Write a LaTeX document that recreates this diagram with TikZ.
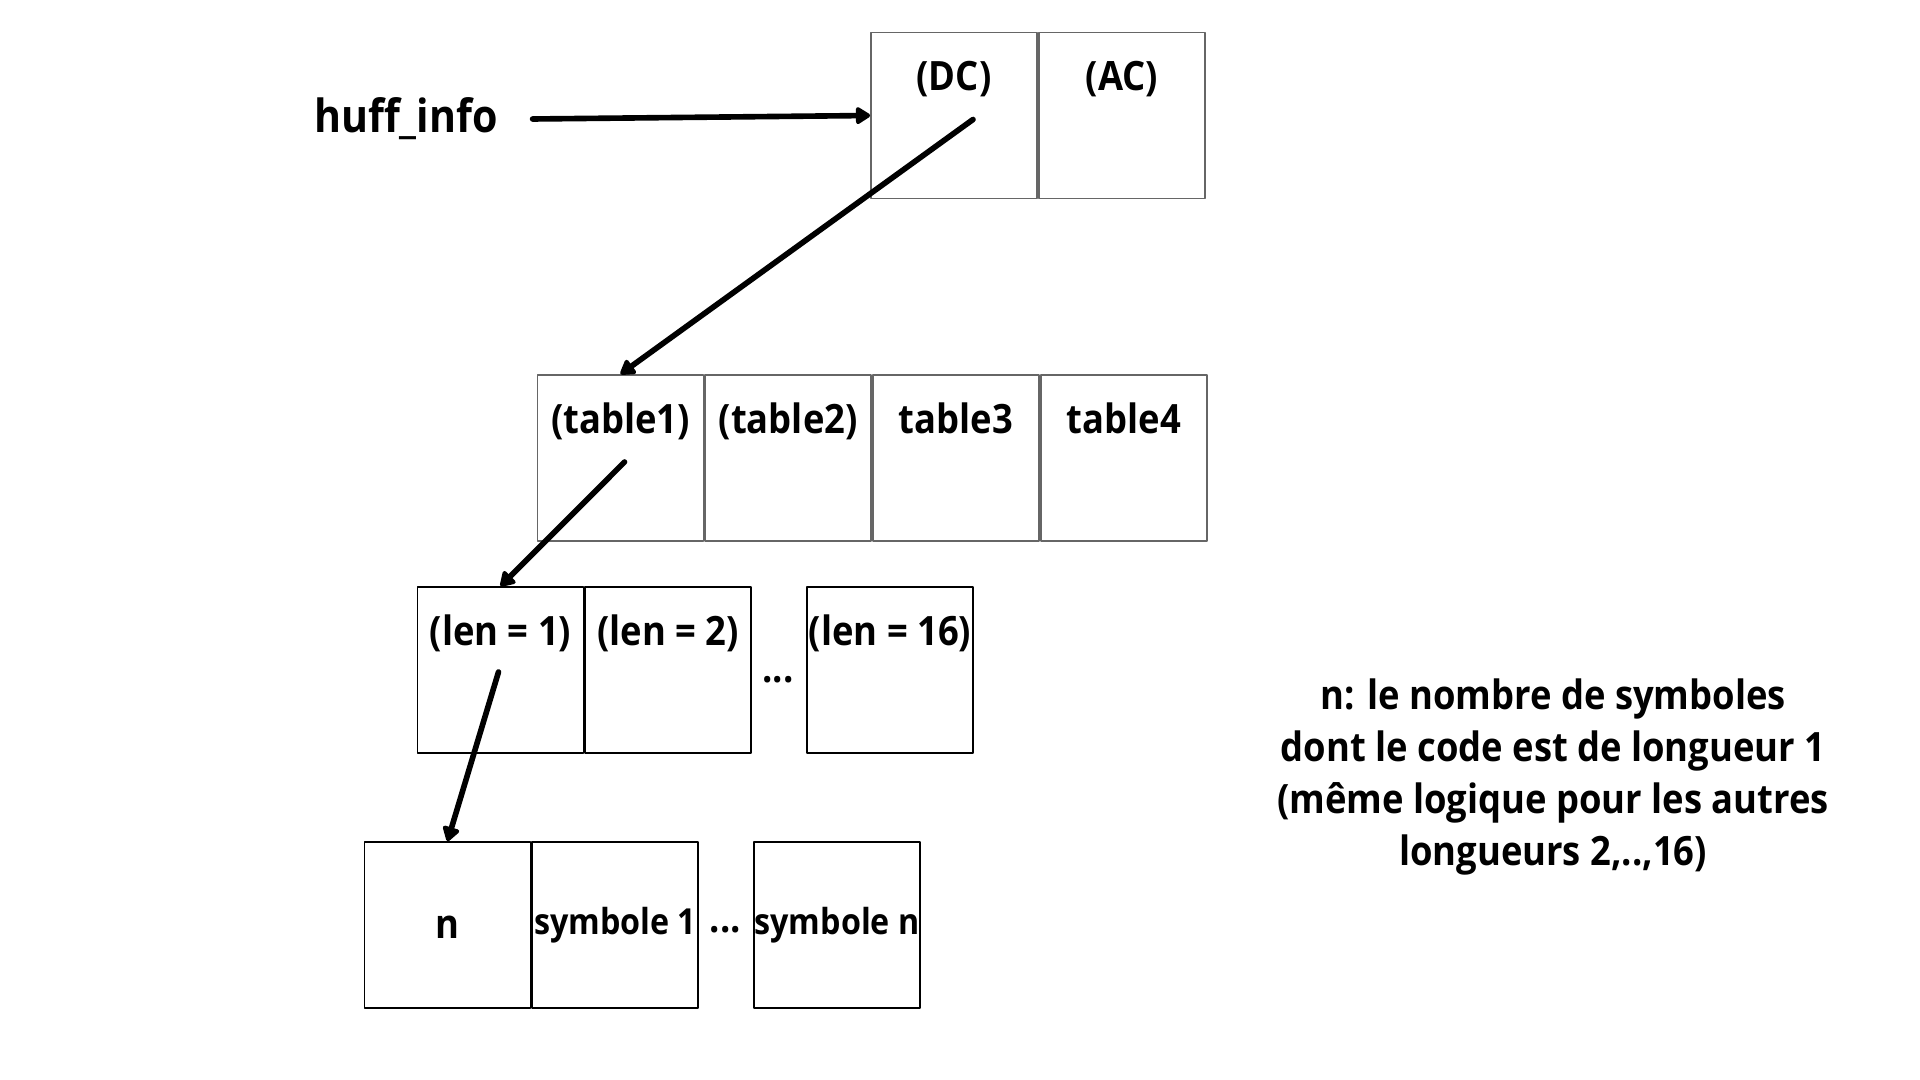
\documentclass[tikz,border=0pt]{standalone}
\usepackage{fontspec}
\setmainfont{Open Sans}[FakeStretch=0.9]
\usetikzlibrary{positioning,arrows.meta}
\tikzset{
	cell/.style={draw=gray!80!black, line width=0.5pt, minimum width=1.66cm, minimum height=1.66cm, inner sep=0pt},
	cellb/.style={cell, draw=black},
	lbl/.style={font=\fontsize{11.5}{13.5}\selectfont\bfseries, inner sep=0pt},
	toplbl/.style={lbl, text height=8.6pt, text depth=2.9pt},
	ptr/.style={->, line width=1.6pt}
}
\begin{document}
\begin{tikzpicture}[>={Triangle[round, length=4.6pt, width=5.4pt]}, line join=round, line cap=round]
	\useasboundingbox (0,0) rectangle (19.2,-10.8);
	% Niveau 1 : huff_info -> (DC) (AC)
	\node[font=\fontsize{13}{15}\selectfont\bfseries, inner sep=0pt] (huff) at (4.06,-1.19) {huff\_info};
	\node[cell] (dc) at (9.54,-1.155) {};
	\node[cell, right=0pt of dc] (ac) {};
	\node[toplbl] (dctxt) at ([yshift=-0.49cm]dc.north) {(DC)};
	\node[toplbl] (actxt) at ([yshift=-0.49cm]ac.north) {(AC)};
	
	% Niveau 2 : les 4 tables
	\node[cell] (t1) at (6.205,-4.58) {};
	\node[cell, right=0pt of t1] (t2) {};
	\node[cell, right=0pt of t2] (t3) {};
	\node[cell, right=0pt of t3] (t4) {};
	\node[toplbl] (t1txt) at ([yshift=-0.49cm]t1.north) {(table1)};
	\node[toplbl] (t2txt) at ([yshift=-0.49cm]t2.north) {(table2)};
	\node[toplbl] (t3txt) at ([yshift=-0.49cm]t3.north) {table3};
	\node[toplbl] (t4txt) at ([yshift=-0.49cm]t4.north) {table4};
	
	% Niveau 3 : longueurs 1..16
	\node[cellb] (l1) at (5.005,-6.70) {};
	\node[cellb, right=0pt of l1] (l2) {};
	\node[cellb] (l16) at (8.90,-6.70) {};
	\node[toplbl] (l1txt) at ([yshift=-0.49cm]l1.north) {(len = 1)};
	\node[toplbl] (l2txt) at ([yshift=-0.49cm]l2.north) {(len = 2)};
	\node[toplbl] (l16txt) at ([yshift=-0.49cm]l16.north) {(len = 16)};
	\node[lbl, anchor=base] (ldots) at (7.78,-6.82) {...};
	
	% Niveau 4 : n, symboles
	\node[cellb] (nb) at (4.475,-9.25) {};
	\node[cellb, right=0pt of nb] (s1) {};
	\node[cellb] (sn) at (8.37,-9.25) {};
	\node[lbl] (ntxt) at ([yshift=-0.02cm]nb.center) {n};
	\node[lbl, font=\fontsize{10.2}{12}\selectfont\bfseries] (s1txt) at (s1.center) {symbole 1};
	\node[lbl, font=\fontsize{10.2}{12}\selectfont\bfseries] (sntxt) at (sn.center) {symbole n};
	\node[lbl, anchor=base] (sdots) at (7.255,-9.32) {...};
	
	% Remarque
	\node[lbl, align=center, font=\fontsize{11.5}{14.8}\selectfont\bfseries] (note) at (15.53,-7.77)
	{n: le nombre de symboles\\ dont le code est de longueur 1\\(même logique pour les autres\\longueurs 2,..,16)};
	
	% Pointeurs
	\coordinate (dcptr) at ([shift={(0.19,-0.04)}]dc.center);
	\coordinate (t1ptr) at ([shift={(0.04,-0.04)}]t1.center);
	\coordinate (l1ptr) at ([shift={(-0.02,-0.02)}]l1.center);
	\draw[ptr] ([xshift=0.34cm]huff.east) -- (dc.west);
	\draw[ptr] (dcptr) -- (t1.north);
	\draw[ptr] (t1ptr) -- (l1.north);
	\draw[ptr] (l1ptr) -- (nb.north);
\end{tikzpicture}
\end{document}
